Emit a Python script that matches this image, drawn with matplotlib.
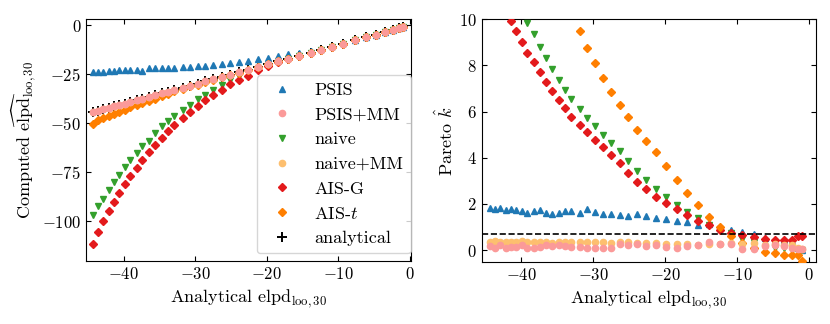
import numpy as np
import matplotlib

matplotlib.use("Agg")
import matplotlib.pyplot as plt

plt.rcParams["font.family"] = "cmr10"
plt.rcParams["mathtext.fontset"] = "cm"
plt.rcParams["axes.formatter.use_mathtext"] = True
plt.rcParams["axes.unicode_minus"] = True

nan = np.nan

# analytical elpd_loo,30 of each of the 40 left-out sets
analytical = [-44.3, -43.6, -42.9, -42.1, -41.4, -40.7, -39.9, -39.1, -38.2, -37.4,
              -36.5, -35.7, -34.7, -33.9, -33.0, -31.8, -30.8, -29.7, -28.6, -27.5,
              -26.3, -25.1, -23.9, -22.6, -21.3, -19.9, -18.4, -17.0, -15.5, -13.9,
              -12.4, -10.9, -9.3, -7.7, -6.2, -4.8, -3.5, -2.4, -1.6, -1.0]

# computed elpd (left panel)
elpd_psis = [-23.8, -23.9, -23.6, -23.3, -23.1, -22.9, -22.8, -22.8, -22.8, -23.1,
             -22.0, -22.0, -22.0, -21.8, -21.7, -21.4, -21.2, -20.9, -21.0, -20.3,
             -19.6, -19.1, -18.5, -18.2, -17.0, -16.5, -15.7, -14.8, -13.9, -13.1,
             -11.9, -10.6, -9.2, -7.6, -6.1, -4.8, -3.5, -2.4, -1.6, -1.0]
elpd_psis_mm = [-44.3, -43.6, -42.9, -42.1, -41.4, -40.7, -39.9, -39.1, -38.2, -37.4,
                -36.5, -35.7, -34.7, -33.9, -33.0, -31.8, -30.8, -29.7, -28.6, -27.5,
                -26.3, -25.1, -23.9, -22.6, -21.3, -19.9, -18.4, -17.0, -15.5, -13.9,
                -12.4, -10.9, -9.3, -7.7, -6.2, -4.8, -3.5, -2.4, -1.6, -1.0]
elpd_naive = [-96.5, -92.2, -88.4, -84.1, -80.0, -76.1, -72.2, -68.6, -65.3, -61.7,
              -58.8, -55.0, -51.6, -48.7, -46.0, -43.0, -40.5, -37.5, -35.3, -32.8,
              -30.7, -28.0, -25.9, -23.7, -22.0, -20.3, -18.6, -17.1, -15.5, -13.9,
              -12.4, -10.9, -9.3, -7.7, -6.2, -4.8, -3.5, -2.4, -1.6, -1.0]
elpd_naive_mm = [-44.3, -43.6, -42.9, -42.1, -41.4, -40.7, -39.9, -39.1, -38.2, -37.4,
                 -36.5, -35.7, -34.7, -33.9, -33.0, -31.8, -30.8, -29.7, -28.6, -27.5,
                 -26.3, -25.1, -23.9, -22.6, -21.3, -19.9, -18.4, -17.0, -15.5, -13.9,
                 -12.4, -10.9, -9.3, -7.7, -6.2, -4.8, -3.5, -2.4, -1.6, -1.0]
elpd_ais_g = [-111.7, -105.3, -99.7, -94.8, -90.1, -85.3, -80.9, -76.6, -72.7, -68.9,
              -64.8, -61.0, -57.4, -53.8, -50.7, -47.3, -44.2, -41.3, -38.3, -35.5,
              -32.8, -30.0, -28.0, -25.8, -22.6, -20.8, -18.9, -17.3, -15.7, -14.0,
              -12.4, -10.9, -9.3, -7.7, -6.2, -4.8, -3.5, -2.4, -1.6, -1.0]
elpd_ais_t = [-50.2, -48.5, -47.3, -46.5, -45.3, -44.2, -43.0, -41.9, -40.5, -39.6,
              -38.4, -37.4, -36.2, -35.0, -33.6, -32.4, -31.2, -30.2, -29.0, -27.8,
              -26.6, -25.3, -24.1, -22.7, -21.3, -19.9, -18.4, -17.0, -15.5, -13.9,
              -12.4, -10.9, -9.3, -7.7, -6.2, -4.8, -3.5, -2.4, -1.6, -1.0]

# Pareto k-hat (right panel); nan = above the plotted range
khat_psis = [1.81, 1.78, 1.82, 1.73, 1.76, 1.73, 1.68, 1.62, 1.69, 1.73,
             1.62, 1.56, 1.62, 1.69, 1.69, 1.59, 1.76, 1.63, 1.56, 1.55,
             1.53, 1.49, 1.55, 1.49, 1.37, 1.33, 1.27, 1.20, 1.07, 1.11,
             0.97, 0.87, 0.79, 0.68, 0.51, 0.43, 0.42, 0.40, 0.08, 0.02]
khat_psis_mm = [0.17, 0.07, 0.22, 0.10, 0.14, 0.12, 0.20, 0.07, 0.10, 0.15,
                0.20, 0.17, 0.23, 0.17, 0.12, 0.14, 0.07, 0.07, 0.10, 0.07,
                0.25, 0.22, 0.28, 0.19, 0.20, 0.12, 0.10, 0.17, 0.20, 0.36,
                0.27, 0.25, 0.04, 0.04, 0.17, 0.20, 0.17, 0.10, 0.03, 0.03]
khat_naive = [nan, nan, nan, nan, nan, nan, nan, 9.86, 9.36, 8.81,
              8.31, 7.83, 7.37, 6.93, 6.53, 6.11, 5.73, 5.37, 5.00, 4.65,
              4.29, 3.86, 3.43, 3.04, 2.65, 2.29, 1.96, 1.66, 1.38, 1.08,
              0.92, 0.75, 0.50, 0.35, 0.15, 0.08, 0.08, 0.02, 0.00, 0.00]
khat_naive_mm = [0.33, 0.38, 0.36, 0.37, 0.36, 0.37, 0.38, 0.34, 0.35, 0.33,
                 0.35, 0.31, 0.33, 0.33, 0.34, 0.35, 0.37, 0.34, 0.33, 0.32,
                 0.34, 0.33, 0.31, 0.30, 0.29, 0.28, 0.26, 0.25, 0.24, 0.26,
                 0.28, 0.30, 0.28, 0.32, 0.22, 0.28, 0.24, 0.22, 0.10, 0.05]
khat_ais_g = [nan, nan, nan, nan, 9.94, 9.51, 9.03, 8.55, 8.13, 7.70,
              7.30, 6.89, 6.50, 6.14, 5.76, 5.42, 5.10, 4.77, 4.48, 4.13,
              3.76, 3.35, 2.96, 2.63, 2.31, 2.02, 1.76, 1.52, 1.27, 1.07,
              0.89, 0.72, 0.65, 0.55, 0.47, 0.43, 0.42, 0.42, 0.62, 0.62]
khat_ais_t = [nan, nan, nan, nan, nan, nan, nan, nan, nan, nan,
              nan, nan, nan, nan, nan, 9.49, 8.77, 8.12, 7.47, 6.86,
              6.29, 5.75, 5.20, 4.74, 4.26, 3.65, 3.03, 2.46, 1.95, 1.44,
              1.01, 0.62, 0.30, 0.07, -0.08, -0.14, -0.22, -0.22, -0.22, -0.46]

K_THRESHOLD = 0.7

# Paired palette colours per method
STYLE = {
    "PSIS": dict(color="#1f78b4", marker="^", ms=5),
    "PSIS+MM": dict(color="#fb9a99", marker="o", ms=4.5),
    "naive": dict(color="#33a02c", marker="v", ms=5),
    "naive+MM": dict(color="#fdbf6f", marker="o", ms=4.5),
    "AIS-G": dict(color="#e31a1c", marker="D", ms=3.8),
    r"AIS-$t$": dict(color="#ff7f00", marker="D", ms=3.8),
}
ZORDER = {"PSIS": 3, "PSIS+MM": 5, "naive": 3, "naive+MM": 4, "AIS-G": 3, r"AIS-$t$": 3}

elpd = {"PSIS": elpd_psis, "PSIS+MM": elpd_psis_mm, "naive": elpd_naive,
        "naive+MM": elpd_naive_mm, "AIS-G": elpd_ais_g, r"AIS-$t$": elpd_ais_t}
khat = {"PSIS": khat_psis, "PSIS+MM": khat_psis_mm, "naive": khat_naive,
        "naive+MM": khat_naive_mm, "AIS-G": khat_ais_g, r"AIS-$t$": khat_ais_t}

fig = plt.figure(figsize=(8.3, 3.24), dpi=100)
ax1 = fig.add_axes([0.1036, 0.1954, 0.3912, 0.746])
ax2 = fig.add_axes([0.5804, 0.1904, 0.4024, 0.750])

for name, st in STYLE.items():
    ax1.plot(analytical, elpd[name], ls="none", label=name, zorder=ZORDER[name], **st)
    ax2.plot(analytical, khat[name], ls="none", label=name, zorder=ZORDER[name], **st)
ax1.plot(analytical, analytical, ls="none", marker="+", color="black", ms=7.5, mew=1.4,
         label="analytical", zorder=2)

ax2.axhline(K_THRESHOLD, color="black", ls="--", lw=1.2, zorder=6)

for ax in (ax1, ax2):
    ax.tick_params(direction="in", top=True, right=True, labelsize=12)
    ax.set_xlabel(r"Analytical $\mathrm{elpd}_{\mathrm{loo},30}$", fontsize=13)

ax1.set_xlim(-45.3, 0.1)
ax1.set_ylim(-120, 3.2)
ax1.set_yticks([0, -25, -50, -75, -100])
ax1.set_xticks([-40, -30, -20, -10, 0])
ax1.set_ylabel(r"Computed $\widehat{\mathrm{elpd}}_{\mathrm{loo},30}$", fontsize=13,
               labelpad=2)
ax1.legend(loc="lower right", bbox_to_anchor=(1.0, 0.03), borderaxespad=0,
           fontsize=13)

ax2.set_xlim(-45.45, 0.9)
ax2.set_ylim(-0.53, 10)
ax2.set_xticks([-40, -30, -20, -10, 0])
ax2.set_yticks([0, 2, 4, 6, 8, 10])
ax2.set_ylabel(r"Pareto $\hat{k}$", fontsize=13, labelpad=2)

fig.savefig("out.png", dpi=100)
